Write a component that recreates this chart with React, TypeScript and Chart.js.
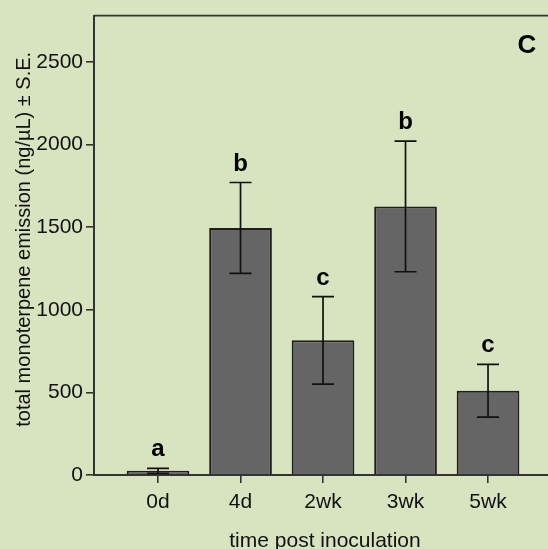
import React, { useEffect, useRef } from "react";
import { Chart, registerables } from "chart.js";

Chart.register(...registerables);

const categories = ["0d", "4d", "2wk", "3wk", "5wk"];
const means = [25, 1495, 815, 1625, 510];
const errors = [15, 275, 265, 395, 160];
const letters = ["a", "b", "c", "b", "c"];
const yTickValues = [0, 500, 1000, 1500, 2000, 2500];
const panelLabel = "C";
const xTitle = "time post inoculation";
const yTitle = "total monoterpene emission (ng/\u00b5L) \u00b1 S.E.";

const BG = "#d8e3bf";
const FONT = "'Liberation Sans', Arial, Helvetica, sans-serif";

export default function App() {
  const ref = useRef<HTMLCanvasElement | null>(null);

  useEffect(() => {
    document.body.style.margin = "0";
    document.body.style.background = BG;
    const canvas = ref.current;
    if (!canvas) return;

    const overlay = {
      id: "overlay",
      afterDatasetsDraw(chart: any) {
        const ctx = chart.ctx;
        const xs = chart.scales.x;
        const ys = chart.scales.y;
        const area = chart.chartArea;
        ctx.save();
        // error bars
        ctx.strokeStyle = "#111";
        ctx.lineWidth = 1.7;
        means.forEach((m, i) => {
          const x = xs.getPixelForValue(i);
          const yTop = ys.getPixelForValue(m + errors[i]);
          const yBot = ys.getPixelForValue(Math.max(0, m - errors[i]));
          const cap = 11;
          ctx.beginPath();
          ctx.moveTo(x, yTop);
          ctx.lineTo(x, yBot);
          ctx.moveTo(x - cap, yTop);
          ctx.lineTo(x + cap, yTop);
          ctx.moveTo(x - cap, yBot);
          ctx.lineTo(x + cap, yBot);
          ctx.stroke();
        });
        // significance letters
        ctx.fillStyle = "#000";
        ctx.font = `bold 24px ${FONT}`;
        ctx.textAlign = "center";
        ctx.textBaseline = "alphabetic";
        means.forEach((m, i) => {
          const x = xs.getPixelForValue(i);
          const y = ys.getPixelForValue(m + errors[i]) - 12;
          ctx.fillText(letters[i], x, y);
        });
        // panel label
        ctx.font = `bold 26px ${FONT}`;
        ctx.textBaseline = "middle";
        ctx.fillText(panelLabel, area.right - 21, area.top + 30);
        // top border
        ctx.strokeStyle = "#333";
        ctx.lineWidth = 1.6;
        ctx.beginPath();
        ctx.moveTo(area.left, area.top);
        ctx.lineTo(area.right, area.top);
        ctx.stroke();
        // axis titles
        ctx.fillStyle = "#111";
        ctx.font = `21px ${FONT}`;
        ctx.textAlign = "center";
        ctx.textBaseline = "alphabetic";
        ctx.fillText(xTitle, (area.left + area.right) / 2 + 4, 546.5);
        ctx.font = `20px ${FONT}`;
        ctx.save();
        ctx.translate(30, (area.top + area.bottom) / 2 - 6);
        ctx.rotate(-Math.PI / 2);
        ctx.fillText(yTitle, 0, 0);
        ctx.restore();
        ctx.restore();
      },
    };

    const chart = new Chart(canvas, {
      type: "bar",
      data: {
        datasets: [
          {
            data: means.map((m, i) => ({ x: i, y: m })),
            backgroundColor: "#656565",
            borderColor: "#1e1e1e",
            borderWidth: 2,
            barPercentage: 0.76,
            categoryPercentage: 1.0,
          },
        ],
      },
      options: {
        animation: false,
        responsive: false,
        maintainAspectRatio: false,
        layout: { padding: { left: 0, right: 0, top: 11, bottom: 0 } },
        plugins: {
          legend: { display: false },
          tooltip: { enabled: false },
          title: { display: false },
        },
        scales: {
          x: {
            type: "linear",
            offset: false,
            min: -0.776,
            max: 4.727,
            afterBuildTicks(scale: any) {
              scale.ticks = categories.map((_, i) => ({ value: i }));
            },
            afterFit(scale: any) {
              scale.height = 74;
            },
            ticks: {
              callback: (v: any) => categories[v as number] ?? "",
              color: "#111",
              font: { size: 21, family: FONT },
              padding: 7,
              maxRotation: 0,
              autoSkip: false,
            },
            grid: {
              offset: false,
              drawOnChartArea: false,
              drawTicks: true,
              tickLength: 8,
              color: "#333",
              lineWidth: 1.6,
            },
            border: { display: true, color: "#333", width: 2 },
          },
          y: {
            type: "linear",
            min: 0,
            max: 2780,
            afterBuildTicks(scale: any) {
              scale.ticks = yTickValues.map((v) => ({ value: v }));
            },
            afterFit(scale: any) {
              scale.width = 94;
            },
            ticks: {
              callback: (v: any) => String(v),
              color: "#111",
              font: { size: 21, family: FONT },
              padding: 3,
              includeBounds: false,
            },
            grid: {
              drawOnChartArea: false,
              drawTicks: true,
              tickLength: 8,
              color: "#333",
              lineWidth: 1.6,
            },
            border: { display: true, color: "#333", width: 2 },
          },
        },
      },
      plugins: [overlay],
    } as any);

    return () => chart.destroy();
  }, []);

  return (
    <div
      style={{
        position: "absolute",
        left: 0,
        top: 0,
        width: 548,
        height: 549,
        background: BG,
        overflow: "hidden",
      }}
    >
      <canvas ref={ref} width={548} height={549} style={{ display: "block" }} />
    </div>
  );
}
